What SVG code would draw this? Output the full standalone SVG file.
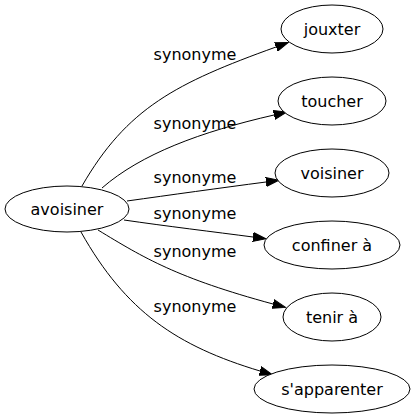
<svg xmlns="http://www.w3.org/2000/svg" width="416" height="419" viewBox="0 0 416 419">
<style>
.node ellipse{fill:#ffffff;stroke:#000000;stroke-width:1}
.node text{font-family:"DejaVu Sans",sans-serif;font-size:16px;fill:#000000;text-anchor:middle}
.edge path{fill:none;stroke:#000000;stroke-width:1;marker-end:url(#arrow)}
.edge text{font-family:"DejaVu Sans",sans-serif;font-size:16px;fill:#000000;text-anchor:middle}
</style>
<defs>
<marker id="arrow" markerUnits="userSpaceOnUse" markerWidth="14" markerHeight="10" refX="0" refY="5" orient="auto" viewBox="0 0 14 10">
<path d="M0,0.5 L13,5 L0,9.5 Z" fill="#000000" stroke="#000000" stroke-width="1"/>
</marker>
</defs>
<rect width="416" height="419" fill="#ffffff"/>
<g id="edges">
<g class="edge" id="e1"><path d="M82,186 C127,108 176,83 276,47"/><text x="195" y="60">synonyme</text></g>
<g class="edge" id="e2"><path d="M102,188 C141,154 200,132 274,115"/><text x="195" y="129">synonyme</text></g>
<g class="edge" id="e3"><path d="M127,201 C170,195 220,188 266,182"/><text x="195" y="183">synonyme</text></g>
<g class="edge" id="e4"><path d="M124,220 C165,226 215,232 253,237"/><text x="195" y="219">synonyme</text></g>
<g class="edge" id="e5"><path d="M98,230 C144,258 177,278 273,304"/><text x="195" y="257">synonyme</text></g>
<g class="edge" id="e6"><path d="M81,232 C126,312 177,346 260,371"/><text x="195" y="312">synonyme</text></g>
</g>
<g class="node" id="n-avoisiner"><ellipse cx="67" cy="209" rx="62" ry="23"/><text x="67" y="215">avoisiner</text></g>
<g class="node" id="n-jouxter"><ellipse cx="332" cy="29" rx="51" ry="24"/><text x="332" y="35">jouxter</text></g>
<g class="node" id="n-toucher"><ellipse cx="332" cy="101" rx="54" ry="24"/><text x="332" y="107">toucher</text></g>
<g class="node" id="n-voisiner"><ellipse cx="332" cy="173" rx="57" ry="24"/><text x="332" y="179">voisiner</text></g>
<g class="node" id="n-confiner"><ellipse cx="332" cy="245" rx="68" ry="24"/><text x="332" y="251">confiner à</text></g>
<g class="node" id="n-tenir"><ellipse cx="332" cy="317" rx="49" ry="24"/><text x="332" y="323">tenir à</text></g>
<g class="node" id="n-sapparenter"><ellipse cx="332" cy="389" rx="78" ry="24"/><text x="332" y="395">s'apparenter</text></g>
</svg>
